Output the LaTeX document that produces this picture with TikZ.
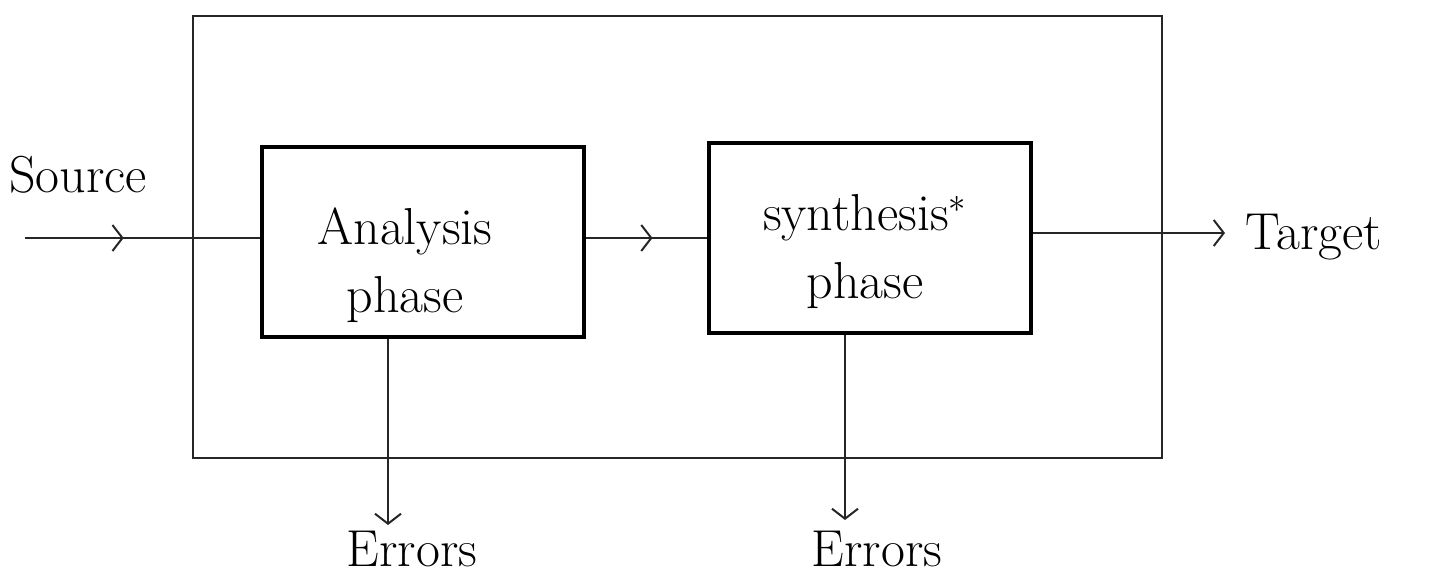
\documentclass[tikz,border=0pt]{standalone}
\usetikzlibrary{arrows.meta,decorations.markings,calc}
\begin{document}
\begin{tikzpicture}[x=0.5pt,y=-0.5pt,
  frame/.style={draw=black!85,line width=1.1pt},
  phasebox/.style={draw=black,line width=2pt,minimum width=161pt,minimum height=95pt,inner sep=0pt},
  wire/.style={draw=black!85,line width=1.1pt},
  barb/.style={decoration={markings,mark=at position #1 with {\arrow{Straight Barb[length=5pt,width=13pt,line width=1pt]}}},postaction={decorate}},
  tailbarb/.style={-{Straight Barb[length=5pt,width=13pt,line width=1pt]}},
  lbl/.style={font=\fontsize{26}{30}\selectfont,inner sep=0pt,align=center}]
\useasboundingbox (0,0) rectangle (1432,577);
% enclosing frame
\draw[frame] (193,16) rectangle (1162,458);
% the two phases
\node[phasebox] (A) at (423,242) {};
\node[phasebox] (S) at (870,238) {};
\node[lbl] (At) at (405,265) {Analysis\\[4pt]phase};
\node[lbl] (St) at (865,252) {synthesis$^{*}$\\[4pt]phase};
% input, output and error channels
\coordinate (in) at (25,238);
\coordinate (out) at (1225,233);
\coordinate (e1) at (388,525);
\coordinate (e2) at (845,520);
\node[lbl] (src) at (78,175) {Source};
\node[lbl,anchor=west] (tgt) at (1245,237) {Target};
\node[lbl] (err1) at (412,549) {Errors};
\node[lbl] (err2) at (877,549) {Errors};
\draw[wire,barb=0.42] (in) -- (in -| A.west);
\draw[wire,barb=0.55] (A.east |- in) -- (S.west |- in);
\draw[wire,tailbarb] (S.east |- out) -- (out);
\draw[wire,tailbarb] (A.south -| e1) -- (e1);
\draw[wire,tailbarb] (S.south -| e2) -- (e2);
\end{tikzpicture}
\end{document}
